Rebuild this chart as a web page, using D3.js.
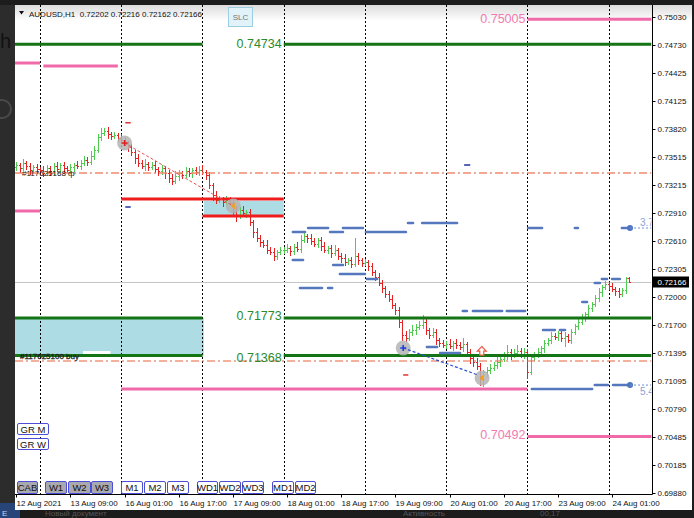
<!DOCTYPE html>
<html><head><meta charset="utf-8">
<script src="https://cdn.jsdelivr.net/npm/d3@7"></script>
<style>html,body{margin:0;padding:0;background:#1d1d1d;overflow:hidden}svg{display:block}text{font-family:"Liberation Sans",Arial,sans-serif}</style>
</head><body><svg id="c" width="694" height="518"></svg>
<script>
// ---------------- DATA ----------------
const symbolTitle = "AUDUSD,H1";
const lastOHLC = [0.72202, 0.72216, 0.72162, 0.72166];
const firstOpen = 0.73410;
const pip = 0.0001;
const closes = [
 0.73429,0.73396,0.73450,0.73418,0.73375,0.73407,0.73386,
 0.73375,0.73342,0.73396,0.73364,0.73418,0.73386,0.73429,0.73396,0.73375,0.73407,0.73429,0.73418,0.73450,0.73483,0.73461,0.73526,0.73591,0.73732,0.73775,0.73797,0.73764,0.73743,0.73753,0.73721,
 0.73699,0.73667,0.73624,0.73569,0.73505,0.73450,0.73418,0.73440,0.73407,0.73429,0.73386,0.73364,0.73396,0.73342,0.73288,0.73256,0.73310,0.73342,0.73321,0.73364,0.73342,0.73375,0.73353,0.73375,
 0.73353,0.73321,0.73212,0.73104,0.73050,0.73061,0.73029,0.73050,0.73018,0.72920,0.72888,0.72942,0.72910,0.72920,0.72812,0.72704,0.72639,0.72596,0.72563,0.72509,0.72488,0.72444,0.72488,0.72509,
 0.72509,0.72531,0.72498,0.72542,0.72520,0.72617,0.72661,0.72639,0.72607,0.72574,0.72617,0.72552,0.72509,0.72531,0.72477,0.72509,0.72444,0.72423,0.72379,0.72401,0.72358,0.72444,0.72401,0.72369,
 0.72379,0.72336,0.72271,0.72217,0.72152,0.72098,0.72033,0.71979,0.71914,0.71860,0.71730,0.71590,0.71557,0.71622,0.71644,0.71676,0.71698,0.71730,0.71644,0.71590,0.71622,0.71536,0.71503,0.71481,
 0.71492,0.71471,0.71503,0.71481,0.71460,0.71492,0.71406,0.71341,0.71297,0.71254,0.71146,0.71189,0.71211,0.71233,0.71265,0.71297,0.71330,0.71362,0.71406,0.71373,0.71395,0.71417,0.71373,0.71406,
 0.71189,0.71352,0.71373,0.71406,0.71449,0.71503,0.71536,0.71579,0.71568,0.71611,0.71557,0.71579,0.71536,0.71622,0.71687,0.71730,0.71774,0.71817,0.71882,0.71925,0.71990,0.72055,0.72109,0.72141,
 0.72120,0.72087,0.72066,0.72033,0.72076,0.72202,0.72166
];
// wick extensions beyond the candle body, in pips
const upWick = [
 3,2,4,2,3,2,3,
 2,4,3,2,3,4,2,3,2,3,2,4,3,4,3,5,4,3,5,3,4,2,3,2,
 4,3,2,3,2,4,3,5,2,3,4,2,3,2,3,4,5,3,2,4,3,2,3,4,
 5,2,3,2,4,3,2,4,3,2,6,3,4,2,3,2,4,3,2,5,3,4,2,3,
 3,4,2,3,5,5,3,2,4,3,2,3,4,2,3,5,2,3,4,2,3,20,3,2,
 3,2,3,2,4,3,2,3,4,2,3,2,4,3,5,3,4,8,3,2,4,3,2,3,
 3,5,2,4,3,7,2,3,2,4,3,2,3,4,3,5,4,4,8,3,4,6,3,4,
 3,2,3,4,2,3,2,4,3,2,3,4,2,3,2,3,4,2,3,2,3,4,2,3,
 2,3,2,3,2,2,1.4
];
const downWick = [
 3,4,2,3,4,2,3,
 4,3,2,4,3,2,3,4,2,3,4,2,3,2,3,2,3,2,3,2,4,3,2,3,
 3,2,4,3,5,3,2,4,3,2,3,4,3,5,4,3,2,4,3,2,3,4,2,3,
 2,4,3,5,3,2,4,3,2,3,7,3,2,4,3,5,3,4,2,3,2,4,3,2,
 3,2,4,3,2,3,2,4,3,2,3,4,2,3,4,2,3,4,3,2,3,2,4,3,
 2,4,3,3,2,4,3,2,3,4,5,5,3,2,3,4,2,3,4,3,2,4,3,2,
 3,2,4,3,2,4,3,5,4,3,10,11,4,3,2,3,4,2,3,4,2,3,2,3,
 7,2,3,2,3,4,2,3,2,3,3,9,2,3,2,3,2,3,2,3,2,3,4,2,
 3,2,4,3,2,3,0.4
];
const yTicks = [0.75030,0.74730,0.74425,0.74125,0.73820,0.73515,0.73215,0.72910,0.72610,0.72305,0.72000,0.71700,0.71395,0.71095,0.70790,0.70485,0.70185,0.69880];
const timeLabels = ["12 Aug 2021","13 Aug 09:00","16 Aug 01:00","16 Aug 17:00","17 Aug 09:00","18 Aug 01:00","18 Aug 17:00","19 Aug 09:00","20 Aug 01:00","20 Aug 17:00","23 Aug 09:00","24 Aug 01:00"];
const timeLabelBars = [0,16,32,48,64,80,96,112,128,144,160,176];
const daySeparators = [7,31,55,79,103,127,151,175];
// levels
const greenLevels = [0.74734, 0.71773, 0.71368];
const greenBreak = [55, 79];
const pinkLevels = [0.74532, 0.74500, 0.72931, 0.71005, 0.75005, 0.70492];
const pinkFrom   = [-5, 8, -5, 31, 151, 151];
const pinkTo     = [7, 30, 7, 151, 200, 200];
const pinkLabeled = [0.75005, 0.70492];
const redLevels = [0.73061, 0.72877];
const redFrom = [31, 55];
const redTo = [79, 79];
const zones = [[55.4, 79, 0.73040, 0.72888], [-5, 55.4, 0.71773, 0.71368]];
const orderLevels = [0.73342, 0.71308];
const orderLabels = ["#117625168 ф", "#117625100 buy"];
const currentPrice = 0.72166;
// blue indicator segments [fromBar, toBar, price]
const signalSegs = [
 [81.7,85.3,0.72704],[86.2,92.1,0.72747],[92.7,96.5,0.72704],[96.5,102.4,0.72747],[103.3,115.1,0.72704],
 [115.7,117.2,0.72801],[119.9,130.2,0.72801],[151.2,155.3,0.72747],[165.0,165.9,0.72747],[178.9,181.3,0.72747],
 [81.7,84.7,0.72401],[93.6,96.5,0.72347],[83.8,90.3,0.72098],[92.1,93.3,0.72098],[95.6,103.0,0.72249],
 [103.6,106.6,0.72195],[121.3,124.3,0.71459],[125.2,131.1,0.71394],[131.9,133.1,0.71849],[134.9,143.5,0.71849],
 [144.9,150.3,0.71849],[152.3,170.1,0.71005],[170.9,174.8,0.71048],[176.3,181.3,0.71048],[155.6,159.1,0.71643],
 [160.6,162.1,0.71643],[167.2,168.6,0.71946],[170.9,172.4,0.72152],[173.0,174.5,0.72195],[176.0,178.3,0.72195]
];
const signalEnds = [[181.3, 0.72747, "3.7"], [181.3, 0.71048, "5.4"]];
const tradeMarks = [[32, 0.73667], [64.1, 0.72985], [114.3, 0.71449], [137.6, 0.71124]];
const smallDashes = [[32.2,33.8,0.73887,"#e03030"],[32.2,33.8,0.72974,"#2030a0"],[132.3,134.1,0.73429,"#2030a0"],[114.3,115.8,0.71157,"#e03030"]];
const upArrow = [137.5, 0.71416];
const topButtons = ["GR M","GR W"];
const bottomButtons = ["CAB","W1","W2","W3","M1","M2","M3","WD1","WD2","WD3","MD1","MD2"];

// ---------------- LAYOUT ----------------
const W = 694, H = 518;
const P = {l: 15, r: 651.5, t: 5, b: 494};
const svg = d3.select("#c");
const x = d3.scaleLinear().domain([0, 175]).range([16.3, 608.7]);
const y = d3.scaleLinear().domain([0.69880, 0.75030]).range([493, 17]);

// backdrop (desktop behind the window)
svg.append("rect").attr("width", W).attr("height", H).attr("fill", "#1c1c1c");
svg.append("rect").attr("x", 0).attr("y", 5).attr("width", 15).attr("height", 505).attr("fill", "#2c2c2c");
svg.append("text").attr("x", 0).attr("y", 48).attr("font-size", 20).attr("fill", "#111").text("h");
svg.append("circle").attr("cx", 2).attr("cy", 109).attr("r", 9).attr("fill", "none").attr("stroke", "#4a4a4a").attr("stroke-width", 2);
svg.append("rect").attr("x", 0).attr("y", 503).attr("width", 20).attr("height", 15).attr("fill", "#28457a");
svg.append("text").attr("x", 2).attr("y", 516).attr("font-size", 8).attr("fill", "#c8d4ea").text("E");
svg.append("text").attr("x", 45).attr("y", 516).attr("font-size", 8).attr("fill", "#555").text("Новый документ");
svg.append("text").attr("x", 403).attr("y", 516).attr("font-size", 8).attr("fill", "#555").text("Активность");
svg.append("text").attr("x", 540).attr("y", 516).attr("font-size", 8).attr("fill", "#555").text("00,17");

// chart window
svg.append("rect").attr("x", 15).attr("y", 5).attr("width", 677).attr("height", 505).attr("fill", "#fff");
const defs = svg.append("defs");
const gr = defs.append("linearGradient").attr("id", "hdr").attr("x1", 0).attr("y1", 0).attr("x2", 0).attr("y2", 1);
gr.append("stop").attr("offset", 0).attr("stop-color", "#dcdcdc");
gr.append("stop").attr("offset", 1).attr("stop-color", "#ffffff");
svg.append("rect").attr("x", 15).attr("y", 5).attr("width", 677).attr("height", 16).attr("fill", "url(#hdr)");
defs.append("clipPath").attr("id", "pc").append("rect").attr("x", P.l).attr("y", P.t).attr("width", P.r - P.l).attr("height", P.b - P.t);

const g = svg.append("g").attr("clip-path", "url(#pc)");

// zones
g.selectAll(".zone").data(zones).join("rect")
  .attr("x", d => x(d[0])).attr("width", d => x(d[1]) - x(d[0]))
  .attr("y", d => y(d[2])).attr("height", d => y(d[3]) - y(d[2]))
  .attr("fill", "#aedce4");
// white label box
g.append("rect").attr("x", x(19.7)).attr("y", y(0.71416)).attr("width", x(27.8) - x(19.7)).attr("height", 8).attr("fill", "#fff");

// day separators
g.selectAll(".sep").data(daySeparators).join("line")
  .attr("x1", d => Math.round(x(d)) + 0.5).attr("x2", d => Math.round(x(d)) + 0.5)
  .attr("y1", P.t).attr("y2", P.b).attr("stroke", "#000").attr("stroke-width", 1).attr("stroke-dasharray", "2,2");

// current price line
g.append("line").attr("x1", P.l).attr("x2", P.r).attr("y1", Math.round(y(currentPrice)) + 0.5).attr("y2", Math.round(y(currentPrice)) + 0.5)
  .attr("stroke", "#c4c4c4").attr("stroke-width", 1);

// OHLC bars
const bars = closes.map((c, i) => {
  const o = i ? closes[i - 1] : firstOpen;
  return {i, o, c, h: Math.max(o, c) + upWick[i] * pip, l: Math.min(o, c) - downWick[i] * pip};
});
g.append("g").attr("shape-rendering", "crispEdges").selectAll("path").data(bars).join("path")
  .attr("d", b => {
    const px = Math.round(x(b.i)) + 0.5;
    const yo = Math.round(y(b.o)) + 0.5, yc = Math.round(y(b.c)) + 0.5;
    return `M${px},${Math.round(y(b.h))}V${Math.round(y(b.l)) + 1}M${px - 1.5},${yo}H${px}M${px},${yc}H${px + 1.5}`;
  })
  .attr("fill", "none").attr("stroke-width", 1)
  .attr("stroke", b => b.c >= b.o ? "#4fcc4f" : "#e42424");

// order dash-dot lines
g.selectAll(".ord").data(orderLevels).join("line")
  .attr("x1", P.l).attr("x2", P.r).attr("y1", d => y(d)).attr("y2", d => y(d))
  .attr("stroke", (d, i) => i === 0 ? "#ee8c6c" : "#e6643a")
  .attr("stroke-width", (d, i) => i === 0 ? 1.6 : 1.1)
  .attr("stroke-dasharray", "8,3,2,3");

// pink levels
g.selectAll(".pink").data(pinkLevels).join("line")
  .attr("x1", (d, i) => x(pinkFrom[i])).attr("x2", (d, i) => x(pinkTo[i]))
  .attr("y1", d => y(d)).attr("y2", d => y(d))
  .attr("stroke", "#f06aa9").attr("stroke-width", 3);

// green levels (left part, right part)
greenLevels.forEach(lv => {
  g.append("line").attr("x1", P.l).attr("x2", x(greenBreak[0])).attr("y1", y(lv)).attr("y2", y(lv)).attr("stroke", "#147514").attr("stroke-width", 3);
  g.append("line").attr("x1", x(greenBreak[1])).attr("x2", P.r).attr("y1", y(lv)).attr("y2", y(lv)).attr("stroke", "#147514").attr("stroke-width", 3);
});
// red levels
g.selectAll(".red").data(redLevels).join("line")
  .attr("x1", (d, i) => x(redFrom[i])).attr("x2", (d, i) => x(redTo[i]))
  .attr("y1", d => y(d)).attr("y2", d => y(d))
  .attr("stroke", "#ee1c1c").attr("stroke-width", 3);

// blue indicator segments
g.selectAll(".sig").data(signalSegs).join("line")
  .attr("x1", d => x(d[0])).attr("x2", d => x(d[1]))
  .attr("y1", d => y(d[2])).attr("y2", d => y(d[2]))
  .attr("stroke", "#5477bd").attr("stroke-width", 2.6).attr("stroke-linecap", "round");
signalEnds.forEach(d => {
  g.append("circle").attr("cx", x(d[0])).attr("cy", y(d[1])).attr("r", 3).attr("fill", "#4f74be");
  g.append("line").attr("x1", x(d[0])).attr("x2", P.r).attr("y1", y(d[1])).attr("y2", y(d[1]))
    .attr("stroke", "#6f8fd0").attr("stroke-width", 1).attr("stroke-dasharray", "2,2");
});
g.append("text").attr("x", 640).attr("y", y(signalEnds[0][1]) - 2).attr("font-size", 10).attr("fill", "#88a2d8").text(signalEnds[0][2]);
g.append("text").attr("x", 640).attr("y", y(signalEnds[1][1]) + 10).attr("font-size", 10).attr("fill", "#88a2d8").text(signalEnds[1][2]);

// small dashes
g.selectAll(".sd").data(smallDashes).join("line")
  .attr("x1", d => x(d[0])).attr("x2", d => x(d[1])).attr("y1", d => y(d[2])).attr("y2", d => y(d[2]))
  .attr("stroke", d => d[3]).attr("stroke-width", 1.5);

// trade circles
g.selectAll(".tc").data(tradeMarks).join("circle")
  .attr("cx", d => x(d[0])).attr("cy", d => y(d[1])).attr("r", 7.5)
  .attr("fill", "#b4b4b4").attr("opacity", 0.85);
// trade lines
g.append("line").attr("x1", x(tradeMarks[0][0])).attr("y1", y(tradeMarks[0][1])).attr("x2", x(tradeMarks[1][0])).attr("y2", y(tradeMarks[1][1]))
  .attr("stroke", "#e25555").attr("stroke-width", 1).attr("stroke-dasharray", "3,2");
g.append("line").attr("x1", x(tradeMarks[2][0])).attr("y1", y(tradeMarks[2][1])).attr("x2", x(tradeMarks[3][0]) - 4).attr("y2", y(tradeMarks[3][1]) - 3)
  .attr("stroke", "#2a4fd0").attr("stroke-width", 1.2).attr("stroke-dasharray", "3,2");
// entry/exit glyphs
function plus(cx, cy, col) {
  g.append("path").attr("d", `M${cx - 3},${cy}H${cx + 3}M${cx},${cy - 3}V${cy + 3}`).attr("stroke", col).attr("stroke-width", 1.6);
}
plus(x(tradeMarks[0][0]), y(tradeMarks[0][1]), "#e02020");
plus(x(tradeMarks[2][0]), y(tradeMarks[2][1]), "#1f3fe0");
[tradeMarks[1], tradeMarks[3]].forEach(d => {
  const cx = x(d[0]), cy = y(d[1]);
  g.append("path").attr("d", `M${cx - 2.5},${cy}L${cx + 1.5},${cy - 3.5}L${cx + 1.5},${cy + 3.5}Z`).attr("fill", "#f0a020");
});
// hollow up arrow
{
  const cx = x(upArrow[0]), cy = y(upArrow[1]);
  g.append("path").attr("d", `M${cx},${cy - 4.5}L${cx + 4.5},${cy}H${cx + 2}V${cy + 4}H${cx - 2}V${cy}H${cx - 4.5}Z`)
    .attr("fill", "#fff").attr("stroke", "#f05a4a").attr("stroke-width", 1.2);
}

// level labels
greenLevels.forEach((lv, i) => {
  const dy = [3.6, 2, 6.5][i];
  g.append("text").attr("x", x(greenBreak[1]) - 2).attr("y", y(lv) + dy).attr("text-anchor", "end")
    .attr("font-size", 12.5).attr("fill", "#2a8a2a").text(lv.toFixed(5));
});
pinkLabeled.forEach((lv, i) => {
  const dy = [3.7, 2.6][i];
  g.append("text").attr("x", x(151) - 2).attr("y", y(lv) + dy).attr("text-anchor", "end")
    .attr("font-size", 12.5).attr("fill", "#f27ab2").text(lv.toFixed(5));
});
// order labels
g.append("text").attr("x", 22).attr("y", y(orderLevels[0]) + 2.5).attr("font-size", 8).attr("fill", "#111").text(orderLabels[0]);
g.append("text").attr("x", 20).attr("y", y(orderLevels[1]) - 2).attr("font-size", 8).attr("fill", "#222")
  .attr("stroke", "#222").attr("stroke-width", 0.3).text(orderLabels[1]);

// title
svg.append("path").attr("d", "M19,11H24L21.5,14.5Z").attr("fill", "#111");
svg.append("text").attr("x", 29).attr("y", 16.5).attr("font-size", 8).attr("fill", "#111").style("white-space", "pre")
  .text(symbolTitle + "  " + lastOHLC.map(v => v.toFixed(5)).join(" "));
// SLC button
svg.append("rect").attr("x", 228.5).attr("y", 7.5).attr("width", 24).attr("height", 19).attr("fill", "#e2f2f9").attr("stroke", "#9ccde0");
svg.append("text").attr("x", 240.5).attr("y", 20).attr("text-anchor", "middle").attr("font-size", 8).attr("fill", "#777").text("SLC");

// buttons
const btnX = [[17,37],[45,66],[68,90],[91,112],[121,142],[144,165],[167,188],[197,217],[219,240],[242,263],[272,293],[295,315]];
bottomButtons.forEach((t, i) => {
  const [a, b] = btnX[i];
  svg.append("rect").attr("x", a + 0.5).attr("y", 481.5).attr("width", b - a).attr("height", 12).attr("rx", 1.5)
    .attr("fill", i < 4 ? "#a9a9b1" : "#fff").attr("stroke", "#4d4dd6");
  svg.append("text").attr("x", (a + b) / 2 + 0.5).attr("y", 491).attr("text-anchor", "middle").attr("font-size", 9.5).attr("fill", "#111").text(t);
});
topButtons.forEach((t, i) => {
  const yy = [423, 438][i];
  svg.append("rect").attr("x", 17.5).attr("y", yy + 0.5).attr("width", 31).attr("height", 11).attr("rx", 1.5)
    .attr("fill", "#fff").attr("stroke", "#4d4dd6");
  svg.append("text").attr("x", 33).attr("y", yy + 9.5).attr("text-anchor", "middle").attr("font-size", 9.5).attr("fill", "#111").text(t);
});

// axes
svg.append("line").attr("x1", 652.5).attr("x2", 652.5).attr("y1", P.t).attr("y2", P.b + 0.5).attr("stroke", "#000");
svg.append("line").attr("x1", P.l).attr("x2", 652.5).attr("y1", P.b + 0.5).attr("y2", P.b + 0.5).attr("stroke", "#000");
const yAxis = svg.append("g").attr("transform", "translate(652.5,0)")
  .call(d3.axisRight(y).tickValues(yTicks).tickFormat(d3.format(".5f")).tickSize(3).tickPadding(2));
yAxis.select(".domain").remove();
yAxis.selectAll("text").attr("font-size", 8).attr("fill", "#111").attr("font-family", "Liberation Sans, Arial");
yAxis.selectAll(".tick").attr("transform", d => `translate(0,${Math.round(y(d)) + 0.5})`);
// current price tag
svg.append("rect").attr("x", 653).attr("y", Math.round(y(currentPrice)) - 5.5).attr("width", 36).attr("height", 11).attr("fill", "#000");
svg.append("text").attr("x", 657.5).attr("y", Math.round(y(currentPrice)) + 3).attr("font-size", 8).attr("fill", "#fff").text(currentPrice.toFixed(5));

const xAxis = svg.append("g").attr("transform", `translate(0,${P.b + 0.5})`)
  .call(d3.axisBottom(x).tickValues(timeLabelBars).tickFormat((d, i) => timeLabels[i]).tickSize(3).tickPadding(3));
xAxis.select(".domain").remove();
xAxis.selectAll(".tick").attr("transform", d => `translate(${Math.round(x(d)) + 0.5},0)`);
xAxis.selectAll("text").attr("text-anchor", "start").attr("dx", 0).attr("font-size", 8).attr("fill", "#111").attr("font-family", "Liberation Sans, Arial");
</script>
</body></html>
